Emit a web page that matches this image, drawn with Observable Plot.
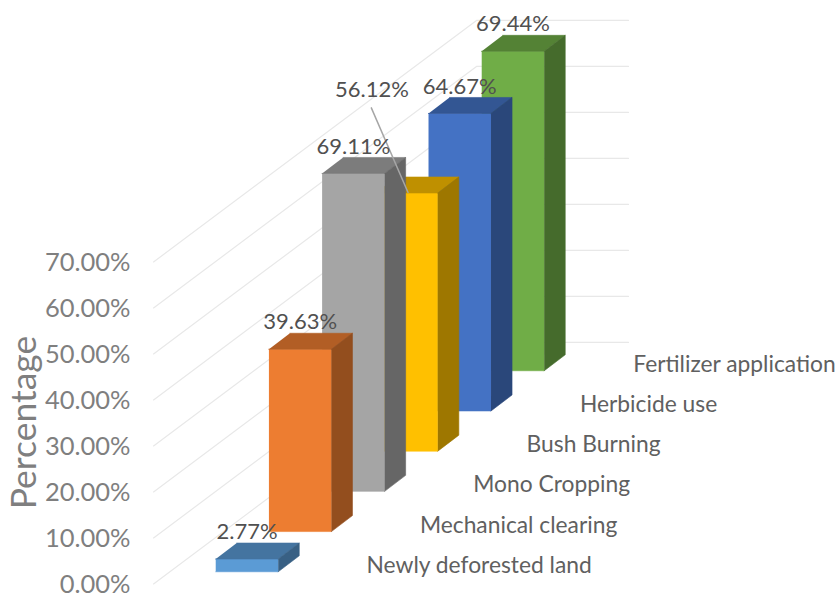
<!DOCTYPE html>
<html>
<head>
<meta charset="utf-8">
<script src="https://cdn.jsdelivr.net/npm/d3@7"></script>
<script src="https://cdn.jsdelivr.net/npm/@observablehq/plot@0.6"></script>
<style>html,body{margin:0;padding:0;background:#fff}svg{display:block}</style>
</head>
<body>
<div id="chart"></div>
<script>
const categories = ["Newly deforested land","Mechanical clearing","Mono Cropping","Bush Burning","Herbicide use","Fertilizer application"];
const values = [2.77,39.63,69.11,56.12,64.67,69.44];
const frontColors = ["#5b9bd5","#ed7d31","#a5a5a5","#ffc000","#4472c4","#70ad47"];
const yTicks = [0,10,20,30,40,50,60,70];

// Oblique projection, in scale units: x in category steps, y in percentage points
const barWidth = 1.175, depthX = 0.395, depthY = 3.48, rowY = 8.74, baseY = 2.55;
const shade = (c, k) => { const r = d3.rgb(c); return d3.rgb(r.r*k, r.g*k, r.b*k).formatHex(); };
const project = (i, u, v, d) => ({x: i + u*barWidth + d*depthX - 0.015, y: baseY + i*rowY + v + d*depthY});

const faces = [];
for (let i = categories.length - 1; i >= 0; --i) {
  const v = values[i], c = frontColors[i];
  const add = (name, fill, pts) => pts.forEach(p => faces.push({id: i + name, fill, ...project(i, ...p)}));
  add("front", c, [[0,0,0],[1,0,0],[1,v,0],[0,v,0]]);
  add("top", shade(c,.75), [[0,v,0],[1,v,0],[1,v,1],[0,v,1]]);
  add("side", shade(c,.62), [[1,0,0],[1,0,1],[1,v,1],[1,v,0]]);
}

// Gridlines: along the side wall, then across the back wall
const grid = yTicks.flatMap(t => [
  {t, x:-1.184, y:t-0.1},
  {t, x:4.887, y:t+52.4},
  {t, x:7.744, y:t+52.4}
]);

const labelAt = i => i === 3
  ? {x: 2.92, y: 107.4}
  : {...project(i, .5, values[i], 0), dy: -27};
const dataLabels = values.map((v,i) => ({text: v.toFixed(2)+"%", ...labelAt(i)}));
const leader = [{x:2.91, y:103.4},{x:3.6, y:85}];

const catLabels = categories.map((c,i) => ({c, x: i*1.003 + 2.82, y: 3.9 + i*rowY}));

const plot = Plot.plot({
  width: 837, height: 594,
  marginLeft: 130, marginRight: 0, marginTop: 0, marginBottom: 0,
  style: {fontFamily: "Lato, sans-serif", background: "#fff", overflow: "visible"},
  x: {domain: [-1.617, 11.673], axis: null},
  y: {domain: [-2.391, 126.74], axis: null},
  marks: [
    Plot.line(grid, {x:"x", y:"y", z:"t", stroke:"#e8e8e8", strokeWidth:1.2}),
    Plot.line(faces, {x:"x", y:"y", z:"id", fill:"fill", stroke:"fill", strokeWidth:0.6}),
    Plot.line(leader, {x:"x", y:"y", stroke:"#a6a6a6", strokeWidth:1.5}),
    Plot.axisY({ticks: yTicks, tickFormat: d => d.toFixed(2)+"%", tickSize:0, tickPadding:0, fontSize:25.5, dy:1, fill:"#7f7f7f", label:null}),
    Plot.text(dataLabels.filter(d => d.dy), {x:"x", y:"y", text:"text", dy:-27, fontSize:22, fill:"#505050"}),
    Plot.text(dataLabels.filter(d => !d.dy), {x:"x", y:"y", text:"text", fontSize:22, fill:"#505050"}),
    Plot.text(catLabels, {x:"x", y:"y", text:"c", textAnchor:"start", fontSize:22.8, fill:"#606060"}),
    Plot.text(["Percentage"], {x:[-3.6], y:[35], text:d=>d, rotate:-90, fontSize:35.5, fill:"#7f7f7f"})
  ]
});
document.getElementById("chart").appendChild(plot);
</script>
</body>
</html>
